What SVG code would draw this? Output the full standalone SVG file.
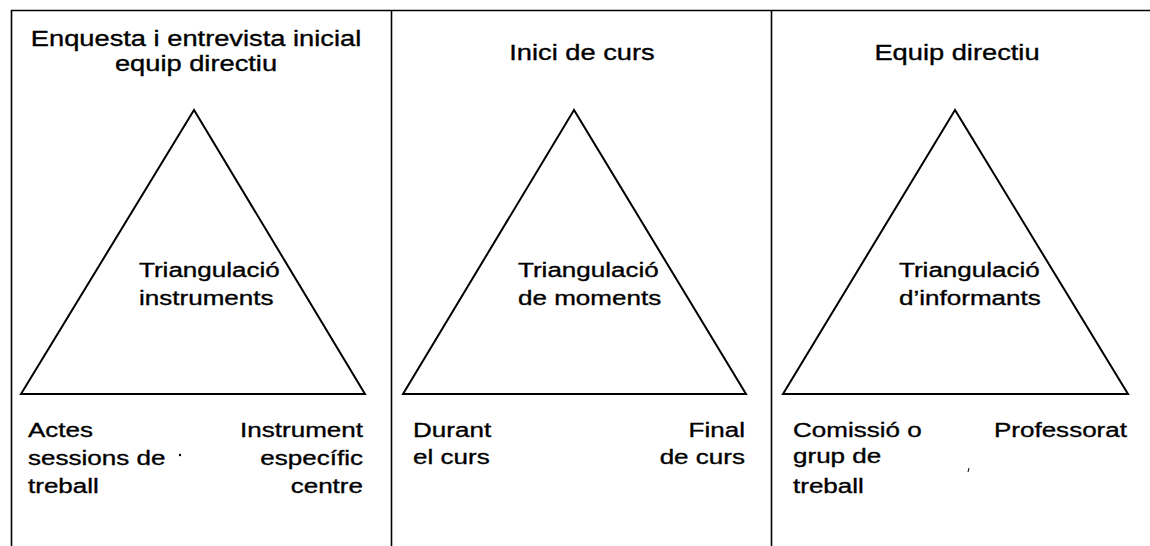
<svg xmlns="http://www.w3.org/2000/svg" width="1150" height="546" viewBox="0 0 1150 546">
<style>
text{font-family:"Liberation Sans",Arial,sans-serif;font-size:21px;fill:#000;stroke:#000;stroke-width:0.35}
.h{font-size:22px}
.m{text-anchor:middle}
.e{text-anchor:end}
.tri{fill:none;stroke:#000;stroke-width:2}
.frame{stroke:#000;stroke-width:1.6;fill:none}
</style>
<g id="frame">
<line class="frame" x1="11" y1="10.5" x2="1150" y2="10.5"/>
<line class="frame" x1="11.5" y1="10" x2="11.5" y2="546"/>
<line class="frame" x1="391.5" y1="10" x2="391.5" y2="546"/>
<line class="frame" x1="771.5" y1="10" x2="771.5" y2="546"/>
</g>
<g id="panel1">
<text class="m h" transform="translate(196,46) scale(1.24,1)">Enquesta i entrevista inicial</text>
<text class="m h" transform="translate(196,71) scale(1.24,1)">equip directiu</text>
<polygon class="tri" points="194,110 21,394 365,394"/>
<text transform="translate(139,277) scale(1.24,1)">Triangulació</text>
<text transform="translate(139,305) scale(1.24,1)">instruments</text>
<text transform="translate(28,437) scale(1.24,1)">Actes</text>
<text transform="translate(28,465) scale(1.24,1)">sessions de</text>
<text transform="translate(28,493) scale(1.24,1)">treball</text>
<text class="e" transform="translate(363,437) scale(1.24,1)">Instrument</text>
<text class="e" transform="translate(363,465) scale(1.24,1)">específic</text>
<text class="e" transform="translate(363,493) scale(1.24,1)">centre</text>
<circle cx="180" cy="455" r="1.2" fill="#000"/>
</g>
<g id="panel2">
<text class="m h" transform="translate(582,60) scale(1.24,1)">Inici de curs</text>
<polygon class="tri" points="574,110 403,394 746,394"/>
<text transform="translate(518,277) scale(1.24,1)">Triangulació</text>
<text transform="translate(518,305) scale(1.24,1)">de moments</text>
<text transform="translate(413,437) scale(1.24,1)">Durant</text>
<text transform="translate(413,464) scale(1.24,1)">el curs</text>
<text class="e" transform="translate(745,437) scale(1.24,1)">Final</text>
<text class="e" transform="translate(745,464) scale(1.24,1)">de curs</text>
</g>
<g id="panel3">
<text class="m h" transform="translate(957,60) scale(1.24,1)">Equip directiu</text>
<polygon class="tri" points="955,110 783,394 1128,394"/>
<text transform="translate(899,277) scale(1.24,1)">Triangulació</text>
<text transform="translate(899,305) scale(1.24,1)">d’informants</text>
<text transform="translate(793,437) scale(1.24,1)">Comissió o</text>
<text transform="translate(793,463) scale(1.24,1)">grup de</text>
<text transform="translate(793,493) scale(1.24,1)">treball</text>
<text class="e" transform="translate(1127,437) scale(1.24,1)">Professorat</text>
<line x1="969" y1="468" x2="968" y2="472" stroke="#000" stroke-width="1"/>
</g>
<g id="connectors"></g>
</svg>
